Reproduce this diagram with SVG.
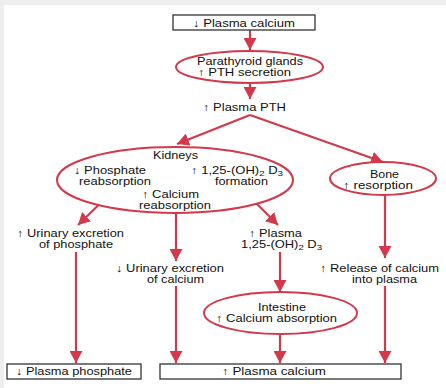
<svg xmlns="http://www.w3.org/2000/svg" width="446" height="388" viewBox="0 0 446 388">
<defs>
<marker id="ah" markerUnits="userSpaceOnUse" markerWidth="13" markerHeight="13" refX="12" refY="6.5" orient="auto">
<path d="M0,0 L12,6.5 L0,13 z" fill="#d3394b"/>
</marker>
</defs>
<style>
text{font-family:"Liberation Sans",Arial,sans-serif;font-size:10.8px;fill:#111;}
.box{fill:#fff;stroke:#333;stroke-width:1.3;}
.ell{fill:#fff;stroke:#d3394b;stroke-width:2;}
.c{fill:none;stroke:#d3394b;stroke-width:2.2;marker-end:url(#ah);}
.sub{font-size:8px;}
</style>
<rect x="0" y="0" width="446" height="388" fill="#eeeeee"/>
<rect x="4" y="5" width="442" height="383" fill="#ffffff"/>

<g id="connectors">
<path class="c" d="M250,30 L250,50"/>
<path class="c" d="M250,83 L250,99"/>
<path class="c" d="M250,115 L177,144"/>
<path class="c" d="M250,115 L383,162"/>
<path class="c" d="M115,189 L78,225"/>
<path class="c" d="M176,213 L176,261"/>
<path class="c" d="M242,189 L278,225"/>
<path class="c" d="M76,252 L76,363"/>
<path class="c" d="M176,286 L176,363"/>
<path class="c" d="M280,252 L280,292"/>
<path class="c" d="M280,334 L280,363"/>
<path class="c" d="M385,195 L385,258"/>
<path class="c" d="M385,286 L385,363"/>
</g>

<g id="plasma-calcium-low">
<rect class="box" x="173" y="15" width="142" height="15"/>
<text x="193" y="26.5" textLength="102" lengthAdjust="spacingAndGlyphs">↓ Plasma calcium</text>
</g>

<g id="parathyroid">
<ellipse class="ell" cx="249.5" cy="67" rx="73.5" ry="16"/>
<text x="197" y="65" textLength="106" lengthAdjust="spacingAndGlyphs">Parathyroid glands</text>
<text x="198" y="75.5" textLength="93" lengthAdjust="spacingAndGlyphs">↑ PTH secretion</text>
</g>

<g id="plasma-pth">
<text x="203" y="111" textLength="83" lengthAdjust="spacingAndGlyphs">↑ Plasma PTH</text>
</g>

<g id="kidneys">
<ellipse class="ell" cx="175" cy="180" rx="118" ry="33"/>
<text x="153" y="159" textLength="45" lengthAdjust="spacingAndGlyphs">Kidneys</text>
<text x="74" y="174" textLength="72" lengthAdjust="spacingAndGlyphs">↓ Phosphate</text>
<text x="79" y="184.5" textLength="72" lengthAdjust="spacingAndGlyphs">reabsorption</text>
<text x="191" y="174" textLength="92" lengthAdjust="spacingAndGlyphs">↑ 1,25-(OH)<tspan class="sub" dy="1.5">2</tspan><tspan dy="-1.5"> D</tspan><tspan class="sub" dy="1.5">3</tspan></text>
<text x="215" y="184.5" textLength="53" lengthAdjust="spacingAndGlyphs">formation</text>
<text x="142" y="198" textLength="57" lengthAdjust="spacingAndGlyphs">↑ Calcium</text>
<text x="139" y="209" textLength="72" lengthAdjust="spacingAndGlyphs">reabsorption</text>
</g>

<g id="bone">
<ellipse class="ell" cx="383" cy="178.5" rx="53" ry="16.5"/>
<text x="370" y="178" textLength="29" lengthAdjust="spacingAndGlyphs">Bone</text>
<text x="343" y="189" textLength="70" lengthAdjust="spacingAndGlyphs">↑ resorption</text>
</g>

<g id="urinary-phosphate">
<text x="17" y="237" textLength="107" lengthAdjust="spacingAndGlyphs">↑ Urinary excretion</text>
<text x="39" y="248" textLength="74" lengthAdjust="spacingAndGlyphs">of phosphate</text>
</g>

<g id="plasma-d3">
<text x="249" y="237" textLength="53" lengthAdjust="spacingAndGlyphs">↑ Plasma</text>
<text x="241" y="248" textLength="81" lengthAdjust="spacingAndGlyphs">1,25-(OH)<tspan class="sub" dy="1.5">2</tspan><tspan dy="-1.5"> D</tspan><tspan class="sub" dy="1.5">3</tspan></text>
</g>

<g id="urinary-calcium">
<text x="116" y="271.5" textLength="108" lengthAdjust="spacingAndGlyphs">↓ Urinary excretion</text>
<text x="147" y="282.5" textLength="57" lengthAdjust="spacingAndGlyphs">of calcium</text>
</g>

<g id="release-calcium">
<text x="320" y="271.5" textLength="119" lengthAdjust="spacingAndGlyphs">↑ Release of calcium</text>
<text x="352" y="282.5" textLength="65" lengthAdjust="spacingAndGlyphs">into plasma</text>
</g>

<g id="intestine">
<ellipse class="ell" cx="280.5" cy="313" rx="76.5" ry="21"/>
<text x="258" y="311" textLength="48" lengthAdjust="spacingAndGlyphs">Intestine</text>
<text x="216" y="322" textLength="121" lengthAdjust="spacingAndGlyphs">↑ Calcium absorption</text>
</g>

<g id="plasma-phosphate">
<rect class="box" x="7" y="364" width="134" height="15"/>
<text x="16" y="375" textLength="116" lengthAdjust="spacingAndGlyphs">↓ Plasma phosphate</text>
</g>

<g id="plasma-calcium-high">
<rect class="box" x="160" y="364" width="241" height="15"/>
<text x="222" y="375" textLength="104" lengthAdjust="spacingAndGlyphs">↑ Plasma calcium</text>
</g>
</svg>
